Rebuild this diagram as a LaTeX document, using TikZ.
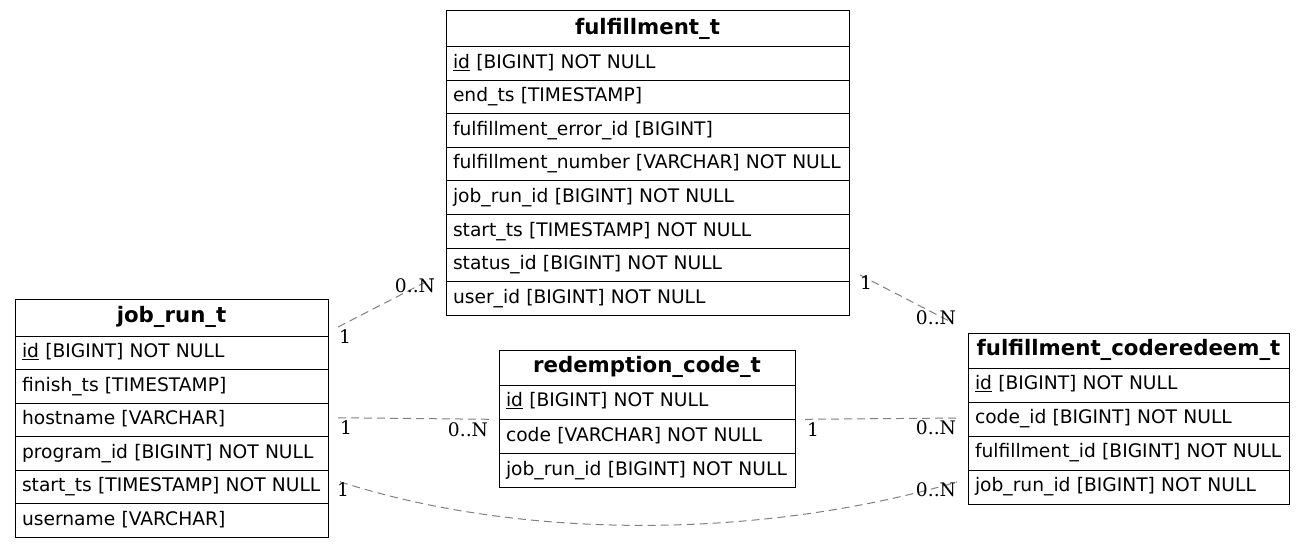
\documentclass[tikz,border=0pt]{standalone}
\usepackage{fontspec}
\setmainfont{DejaVu Sans}
\newfontfamily\cardfont{DejaVu Serif}
\usetikzlibrary{positioning}
\tikzset{>=latex}
\tikzset{
    tblhead/.style={draw, line width=1pt, anchor=north west, text width=#1, inner xsep=7pt, inner ysep=0pt, outer sep=0pt, minimum height=36pt, align=center, text height=15pt, text depth=4.5pt, font=\fontsize{21.3}{24}\selectfont\bfseries},
    tblrow/.style={draw, line width=1pt, text width=#1, inner xsep=7pt, inner ysep=0pt, outer sep=0pt, minimum height=33.5pt, align=left, text height=13.5pt, text depth=4pt, font=\fontsize{18.67}{22}\selectfont},
    rel/.style={draw=gray, dash pattern=on 8pt off 5pt, line width=1pt},
    card/.style={font=\cardfont\fontsize{18.67}{22}\selectfont, inner sep=0pt},
}

\begin{document}
\begin{tikzpicture}[x=1pt, y=-1pt]
    \useasboundingbox (0,0) rectangle (1305,548);
    % fulfillment_t
    \node[tblhead=389] (fuhead) at (446,11) {fulfillment\_t};
    \node[tblrow=389, below=0pt of fuhead] (fuid) {\underline{id} [BIGINT] NOT NULL};
    \node[tblrow=389, below=0pt of fuid] (fuend) {end\_ts [TIMESTAMP]};
    \node[tblrow=389, below=0pt of fuend] (fuerr) {fulfillment\_error\_id [BIGINT]};
    \node[tblrow=389, below=0pt of fuerr] (funum) {fulfillment\_number [VARCHAR] NOT NULL};
    \node[tblrow=389, below=0pt of funum] (fujob) {job\_run\_id [BIGINT] NOT NULL};
    \node[tblrow=389, below=0pt of fujob] (fustart) {start\_ts [TIMESTAMP] NOT NULL};
    \node[tblrow=389, below=0pt of fustart] (fustatus) {status\_id [BIGINT] NOT NULL};
    \node[tblrow=389, below=0pt of fustatus] (fuuser) {user\_id [BIGINT] NOT NULL};
    % job_run_t
    \node[tblhead=299, minimum height=37pt] (jrhead) at (15,299) {job\_run\_t};
    \node[tblrow=299, below=0pt of jrhead] (jrid) {\underline{id} [BIGINT] NOT NULL};
    \node[tblrow=299, below=0pt of jrid] (jrfinish) {finish\_ts [TIMESTAMP]};
    \node[tblrow=299, below=0pt of jrfinish] (jrhost) {hostname [VARCHAR]};
    \node[tblrow=299, below=0pt of jrhost] (jrprog) {program\_id [BIGINT] NOT NULL};
    \node[tblrow=299, below=0pt of jrprog] (jrstart) {start\_ts [TIMESTAMP] NOT NULL};
    \node[tblrow=299, below=0pt of jrstart] (jruser) {username [VARCHAR]};
    % redemption_code_t
    \node[tblhead=282, minimum height=35pt] (rchead) at (499,350) {redemption\_code\_t};
    \node[tblrow=282, minimum height=34.3pt, below=0pt of rchead] (rcid) {\underline{id} [BIGINT] NOT NULL};
    \node[tblrow=282, minimum height=34.3pt, below=0pt of rcid] (rccode) {code [VARCHAR] NOT NULL};
    \node[tblrow=282, minimum height=34.3pt, below=0pt of rccode] (rcjob) {job\_run\_id [BIGINT] NOT NULL};
    % fulfillment_coderedeem_t
    \node[tblhead=307, minimum height=35pt] (cdhead) at (968,333) {fulfillment\_coderedeem\_t};
    \node[tblrow=307, minimum height=34pt, below=0pt of cdhead] (cdid) {\underline{id} [BIGINT] NOT NULL};
    \node[tblrow=307, minimum height=34pt, below=0pt of cdid] (cdcode) {code\_id [BIGINT] NOT NULL};
    \node[tblrow=307, minimum height=34pt, below=0pt of cdcode] (cdfu) {fulfillment\_id [BIGINT] NOT NULL};
    \node[tblrow=307, minimum height=34pt, below=0pt of cdfu] (cdjob) {job\_run\_id [BIGINT] NOT NULL};

    % relations
    \coordinate (ja) at ([shift={(10,-9)}]jrhead.south east);
    \coordinate (fa) at ([shift={(-13,-20)}]fuuser.west);
    \draw[rel] (ja) -- (fa);
    \node[card] (ja1) at ([shift={(17,1)}]jrhead.south east) {1};
    \node[card] (fa1) at ([shift={(-31,-13)}]fuuser.west) {0..N};

    \coordinate (jb) at ([shift={(10,-2)}]jrhost.east);
    \coordinate (rb) at ([shift={(-9,0)}]rcid.south west);
    \draw[rel] (jb) -- (rb);
    \node[card] (jb1) at ([shift={(18,8)}]jrhost.east) {1};
    \node[card] (rb1) at ([shift={(-31,10)}]rcid.south west) {0..N};

    \coordinate (fc) at ([shift={(11,-6.5)}]fustatus.south east);
    \coordinate (cc) at ([shift={(-15,-10)}]cdhead.north west);
    \draw[rel] (fc) -- (cc);
    \node[card] (fc1) at ([shift={(17,1.5)}]fustatus.south east) {1};
    \node[card] (cc1) at ([shift={(-32,-15)}]cdhead.north west) {0..N};

    \coordinate (rd) at ([shift={(10,0)}]rcid.south east);
    \coordinate (cd) at ([shift={(-10,-1)}]cdcode.west);
    \draw[rel] (rd) -- (cd);
    \node[card] (rd1) at ([shift={(18,10)}]rcid.south east) {1};
    \node[card] (cd1) at ([shift={(-32,9)}]cdcode.west) {0..N};

    \coordinate (je) at ([shift={(12,-5)}]jrstart.east);
    \coordinate (ce) at ([shift={(-11,-5)}]cdjob.west);
    \draw[rel] (je) .. controls ([shift={(180,58)}]je) and ([shift={(-200,58)}]ce) .. (ce);
    \node[card] (je1) at ([shift={(15,3)}]jrstart.east) {1};
    \node[card] (ce1) at ([shift={(-32,3)}]cdjob.west) {0..N};
\end{tikzpicture}
\end{document}
